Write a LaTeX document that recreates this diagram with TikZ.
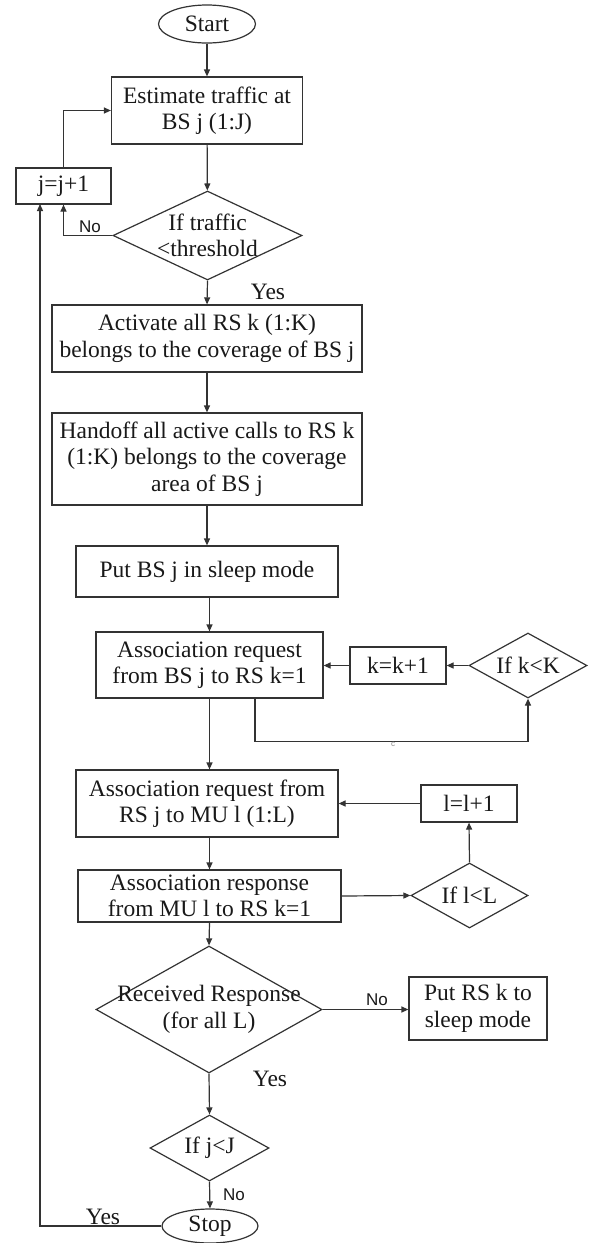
\documentclass[tikz,border=0pt]{standalone}
\usepackage{fontspec}
\setmainfont{Liberation Serif}
\newfontfamily\lsans{Liberation Sans}
\usetikzlibrary{shapes.geometric,arrows.meta,calc}
\begin{document}
\begin{tikzpicture}[x=1pt,y=-1pt,
  every node/.style={font=\fontsize{23.5}{26.5}\selectfont, text=black!90},
  box/.style={draw=black!80, line width=1.2pt, rectangle, inner sep=0pt, align=center},
  dia/.style={draw=black!80, line width=1.2pt, diamond, inner sep=0pt},
  ell/.style={draw=black!80, line width=1.2pt, ellipse, inner sep=0pt},
  arr/.style={draw=black!80, line width=1.2pt, -{Triangle[length=7pt,width=6pt]}},
  lab/.style={font=\lsans\fontsize{17}{20}\selectfont},
  every label/.style={align=center, inner sep=0pt}
]
\useasboundingbox[fill=white] (0,0) rectangle (589,1243);

\node[ell, minimum width=97pt, minimum height=38pt] (start) at (207,24) {Start};
\node[box, minimum width=191pt, minimum height=67pt] (est) at (207,110.5) {Estimate traffic at\\BS j (1:J)};
\node[box, minimum width=95pt, minimum height=36pt] (jinc) at (63.5,186) {j=j+1};
\node[dia, minimum width=189pt, minimum height=89pt, label={center:If traffic\\<threshold}] (d1) at (207.5,235.5) {};
\node[box, minimum width=310pt, minimum height=67pt] (act) at (207,338.5) {Activate all RS k (1:K)\\belongs to the coverage of BS j};
\node[box, minimum width=310pt, minimum height=92pt] (hand) at (207,459) {Handoff all active calls to RS k\\(1:K) belongs to the coverage\\area of BS j};
\node[box, minimum width=262pt, minimum height=51pt] (put) at (207,571.5) {Put BS j in sleep mode};
\node[box, minimum width=227pt, minimum height=66pt] (ar1) at (209.5,665) {Association request\\from BS j to RS k=1};
\node[box, minimum width=96pt, minimum height=37pt] (kinc) at (398,665.5) {k=k+1};
\node[dia, minimum width=118pt, minimum height=65pt, label={center:If k<K}] (dk) at (528,665.5) {};
\node[box, minimum width=262pt, minimum height=67pt] (ar2) at (207,803.5) {Association request from\\RS j to MU l (1:L)};
\node[box, minimum width=96pt, minimum height=37pt] (linc) at (469,803.5) {l=l+1};
\node[box, minimum width=263pt, minimum height=52pt] (resp) at (209.5,896) {Association response\\from MU l to RS k=1};
\node[dia, minimum width=117pt, minimum height=65pt, label={center:If l<L}] (dl) at (469.5,895.5) {};
\node[dia, minimum width=226pt, minimum height=127pt, label={center:Received Response\\(for all L)}] (dr) at (209,1009.5) {};
\node[box, minimum width=138pt, minimum height=63pt] (putrs) at (478,1008.5) {Put RS k to\\sleep mode};
\node[dia, minimum width=119pt, minimum height=66pt, label={center:If j<J}] (dj) at (209.5,1148) {};
\node[ell, minimum width=96pt, minimum height=34pt] (stop) at (210,1226) {Stop};
\coordinate (jin) at (40,204);

\draw[arr] (start) -- (est);
\draw[arr] (est) -- (d1);
\draw[arr] (d1.west) -| (jinc.south);
\draw[arr] (jinc.north) |- (est.west);
\draw[arr] (d1.south) -- (act.north);
\draw[arr] (act) -- (hand);
\draw[arr] (hand) -- (put);
\draw[arr] (ar1.north |- put.south) -- (ar1.north);
\draw[arr] (ar1.south) -- (ar1.south |- ar2.north);
\draw[arr] (ar1.south) ++(45.5,0) -- ++(0,43) -| (dk.south);
\draw[arr] (dk.west) -- (kinc.east);
\draw[arr] (kinc.west) -- (ar1.east |- kinc.west);
\draw[arr] (linc.west) -- (ar2.east |- linc.west);
\draw[arr] (resp.north |- ar2.south) -- (resp.north);
\draw[arr] (resp.east) -- (dl.west);
\draw[arr] (dl.north) -- (linc.south);
\draw[arr] (resp.south) -- (dr.north);
\draw[arr] (dr.east) -- (putrs.west |- dr.east);
\draw[arr] (dr.south) -- (dj.north);
\draw[arr] (dj.south) -- (stop.north);
\draw[arr] (stop.west) -| (jin);

\node[lab] (no1) at (90,227) {No};
\node (yes1) at (268,292) {Yes};
\node[lab] (no2) at (377,1000) {No};
\node (yes2) at (270,1079) {Yes};
\node[lab] (no3) at (234,1195) {No};
\node (yes3) at (103,1217) {Yes};
\node[font=\lsans\fontsize{8}{9}\selectfont, text=black!45, inner sep=0pt] (cmark) at (393,744) {c};
\end{tikzpicture}
\end{document}
